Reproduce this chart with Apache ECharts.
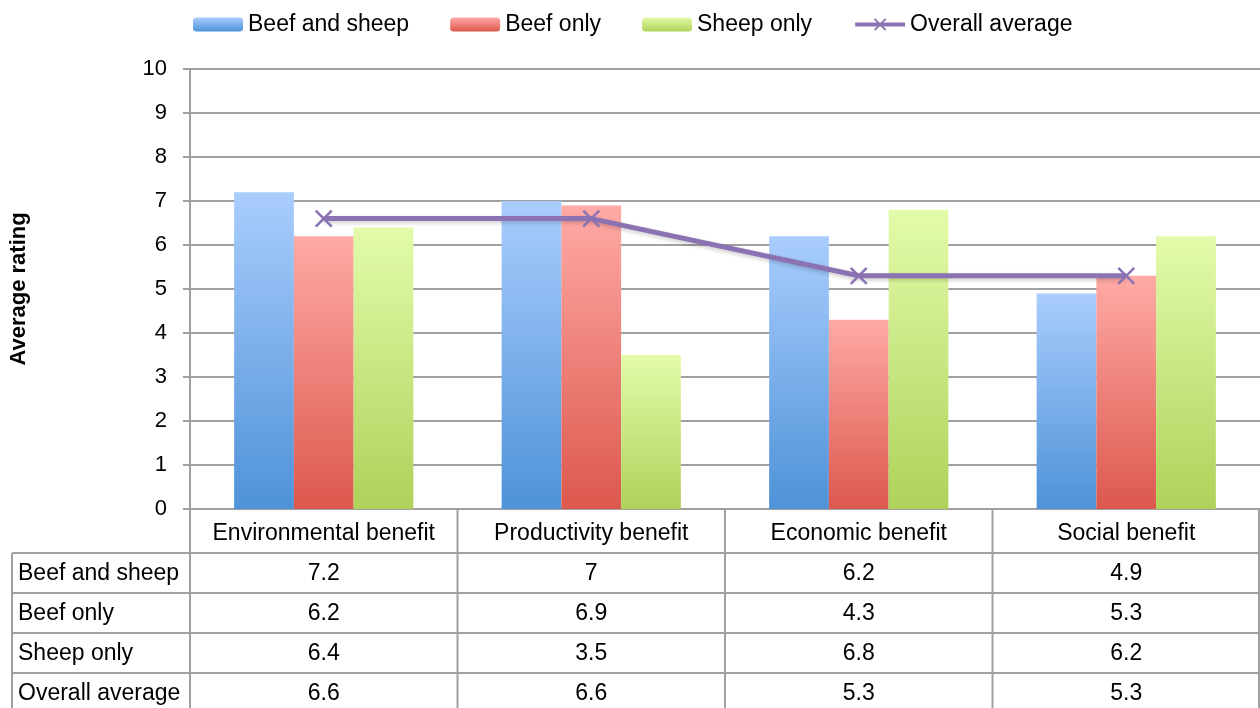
<!DOCTYPE html>
<html>
<head>
<meta charset="utf-8">
<script src="https://cdn.jsdelivr.net/npm/echarts@6/dist/echarts.min.js"></script>
<style>
  html, body { margin: 0; padding: 0; background: #fff; }
  #chart { width: 1260px; height: 708px; }
</style>
</head>
<body>
<div id="chart"></div>
<script>
// Ratings by benefit type for each farm enterprise group
const categories = ['Environmental benefit', 'Productivity benefit', 'Economic benefit', 'Social benefit'];
const beefAndSheep = [7.2, 7, 6.2, 4.9];
const beefOnly = [6.2, 6.9, 4.3, 5.3];
const sheepOnly = [6.4, 3.5, 6.8, 6.2];
const overallAverage = [6.6, 6.6, 5.3, 5.3];
const seriesNames = ['Beef and sheep', 'Beef only', 'Sheep only', 'Overall average'];
const yTicks = { min: 0, max: 10, interval: 1 };

const FONT = '"Liberation Sans", Arial, sans-serif';
const FS = 23;
const GRID_COLOR = '#a0a0a0';
const LINE_COLOR = '#8b72b3';

function grad(top, bottom) {
  return new echarts.graphic.LinearGradient(0, 0, 0, 1, [
    { offset: 0, color: top },
    { offset: 1, color: bottom }
  ]);
}

const barShadow = {
  shadowColor: 'rgba(0,0,0,0.22)',
  shadowBlur: 4,
  shadowOffsetX: 2,
  shadowOffsetY: 1
};

const chart = echarts.init(document.getElementById('chart'), null, { renderer: 'canvas' });

const grid = { left: 189, right: 0, top: 69, bottom: 199 };

const option = {
  animation: false,
  textStyle: { fontFamily: FONT },
  legend: {
    left: 188,
    top: 8,
    itemWidth: 50,
    itemHeight: 14,
    itemGap: 41,
    textStyle: { fontFamily: FONT, fontSize: FS, color: '#000' },
    data: [
      seriesNames[0],
      seriesNames[1],
      seriesNames[2],
      { name: seriesNames[3], lineStyle: { width: 4, color: LINE_COLOR } }
    ]
  },
  grid: grid,
  xAxis: {
    type: 'category',
    data: categories,
    axisLine: { show: true, lineStyle: { color: GRID_COLOR, width: 2 } },
    axisTick: { show: false },
    axisLabel: { fontFamily: FONT, fontSize: FS, color: '#000', margin: 13, interval: 0 }
  },
  yAxis: {
    type: 'value',
    min: yTicks.min,
    max: yTicks.max,
    interval: yTicks.interval,
    name: 'Average rating',
    nameLocation: 'middle',
    nameGap: 160,
    nameTextStyle: { fontFamily: FONT, fontSize: 22, fontWeight: 'bold', color: '#000' },
    axisLine: { show: true, lineStyle: { color: GRID_COLOR, width: 2 } },
    axisTick: { show: true, length: 7, lineStyle: { color: GRID_COLOR, width: 2 } },
    axisLabel: { fontFamily: FONT, fontSize: 22, color: '#000', margin: 23 },
    splitLine: { show: true, lineStyle: { color: GRID_COLOR, width: 2 } }
  },
  series: [
    {
      name: seriesNames[0], type: 'bar', data: beefAndSheep,
      barGap: 0, barCategoryGap: '33%',
      itemStyle: Object.assign({ color: grad('#a9cdfd', '#4e92d8') }, barShadow)
    },
    {
      name: seriesNames[1], type: 'bar', data: beefOnly,
      barGap: 0, barCategoryGap: '33%',
      itemStyle: Object.assign({ color: grad('#ffaaa6', '#dc584d') }, barShadow)
    },
    {
      name: seriesNames[2], type: 'bar', data: sheepOnly,
      barGap: 0, barCategoryGap: '33%',
      itemStyle: Object.assign({ color: grad('#e3fbaa', '#aed25a') }, barShadow)
    },
    {
      name: seriesNames[3], type: 'line', data: overallAverage,
      symbol: 'path://M0,0L10,10M10,0L0,10',
      symbolSize: 16,
      lineStyle: { color: LINE_COLOR, width: 5, shadowColor: 'rgba(0,0,0,0.2)', shadowBlur: 4, shadowOffsetY: 2 },
      itemStyle: { color: 'rgba(0,0,0,0)', borderColor: LINE_COLOR, borderWidth: 2.5 },
      z: 5
    }
  ]
};

chart.setOption(option);

// Data table under the plot: column borders follow the category bands of the x axis
function buildTable() {
  const c0 = chart.convertToPixel({ xAxisIndex: 0 }, 0);
  const c1 = chart.convertToPixel({ xAxisIndex: 0 }, 1);
  const band = c1 - c0;
  const y0 = chart.convertToPixel({ yAxisIndex: 0 }, 0);
  const headerBottom = y0 + 44;
  const rowH = 40;
  const tableLeft = 12;
  const plotLeft = c0 - band / 2;
  const plotRight = plotLeft + band * categories.length;
  const rows = [beefAndSheep, beefOnly, sheepOnly, overallAverage];
  const tableBottom = headerBottom + rowH * rows.length;
  const line = { stroke: GRID_COLOR, lineWidth: 2 };
  const els = [];

  // vertical borders between columns
  for (let i = 0; i <= categories.length; i++) {
    const x = Math.min(plotLeft + band * i, 1259);
    els.push({ type: 'line', shape: { x1: x, y1: y0, x2: x, y2: tableBottom }, style: line, silent: true });
  }
  els.push({ type: 'line', shape: { x1: tableLeft, y1: headerBottom, x2: tableLeft, y2: tableBottom }, style: line, silent: true });

  // horizontal borders between rows
  for (let r = 0; r <= rows.length; r++) {
    const y = headerBottom + rowH * r;
    els.push({ type: 'line', shape: { x1: tableLeft, y1: y, x2: plotRight, y2: y }, style: line, silent: true });
  }

  // row labels and values
  rows.forEach(function (vals, r) {
    const cy = headerBottom + rowH * r + rowH / 2 + 1;
    els.push({
      type: 'text', x: 18, y: cy, silent: true,
      style: { text: seriesNames[r], font: FS + 'px ' + FONT, fill: '#000', align: 'left', verticalAlign: 'middle' }
    });
    vals.forEach(function (v, i) {
      els.push({
        type: 'text', x: plotLeft + band * i + band / 2, y: cy, silent: true,
        style: { text: String(v), font: FS + 'px ' + FONT, fill: '#000', align: 'center', verticalAlign: 'middle' }
      });
    });
  });

  chart.setOption({ graphic: els });
}
buildTable();
</script>
</body>
</html>
